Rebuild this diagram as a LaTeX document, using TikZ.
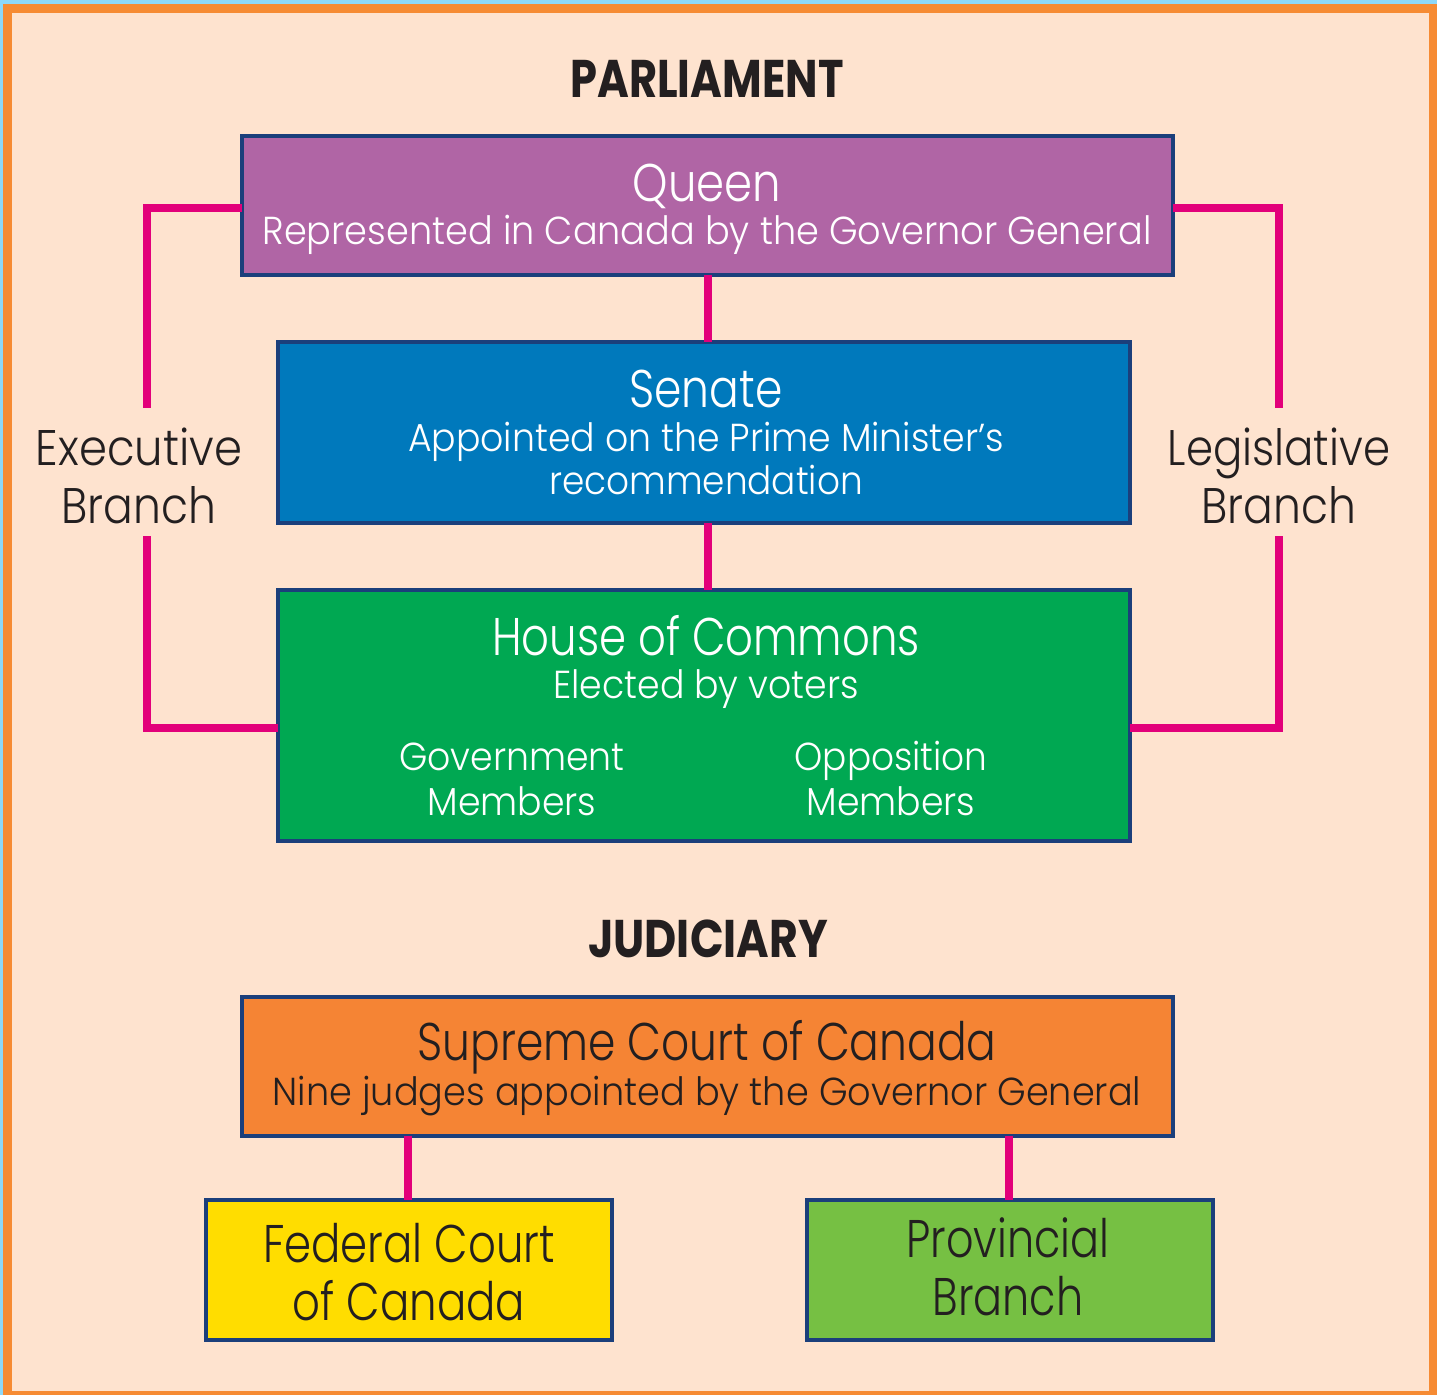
\documentclass[tikz,border=0pt]{standalone}
\usepackage{fontspec}
\setmainfont{Poppins Light}[BoldFont=Poppins Bold]
\usepackage{graphicx}
\definecolor{bgblue}{HTML}{8ED8F8}
\definecolor{frameor}{HTML}{F68B33}
\definecolor{peach}{HTML}{FEE3CF}
\definecolor{navy}{HTML}{1B3F7B}
\definecolor{qpurple}{HTML}{B065A5}
\definecolor{sblue}{HTML}{0079BC}
\definecolor{hgreen}{HTML}{00A852}
\definecolor{corange}{HTML}{F58434}
\definecolor{fyellow}{HTML}{FFDD00}
\definecolor{pgreen}{HTML}{76C043}
\definecolor{magenta}{HTML}{E2007A}
\definecolor{ink}{HTML}{231F20}
\newcommand{\bigsz}{\fontsize{53}{60}\selectfont}
\newcommand{\subsz}{\fontsize{39}{44}\selectfont}
\newcommand{\sidesz}{\fontsize{50}{58}\selectfont}
\newcommand{\headsz}{\fontsize{53}{58}\selectfont}
\newcommand{\hs}[2]{\scalebox{#1}[1]{#2}}
\begin{document}
\begin{tikzpicture}[x=1pt,y=-1pt,
  box/.style={draw=navy, line width=4pt, inner sep=0pt, outer sep=0pt},
  conn/.style={draw=magenta, line width=8pt},
  txt/.style={anchor=base, inner sep=0pt, outer sep=0pt},
  wt/.style={txt, text=white},
  bt/.style={txt, text=ink}]
\useasboundingbox (0,0) rectangle (1437,1395);
\fill[bgblue] (0,0) rectangle (1437,1395);
\fill[frameor] (3,4) rectangle (1437,1395);
\fill[peach] (12,13) rectangle (1429,1391);

% headings
\node[bt, font=\headsz\bfseries] (parl) at (707,97) {\hs{0.815}{PARLIAMENT}};
\node[bt, font=\headsz\bfseries] (jud) at (708,957) {\hs{0.835}{JUDICIARY}};

% boxes
\node[box, fill=qpurple, minimum width=931pt, minimum height=139pt] (queen) at (707.5,205.5) {};
\node[box, fill=sblue, minimum width=852pt, minimum height=181pt] (senate) at (704,432.5) {};
\node[box, fill=hgreen, minimum width=852pt, minimum height=251pt] (house) at (704,715.5) {};
\node[box, fill=corange, minimum width=931pt, minimum height=139pt] (supreme) at (707.5,1066) {};
\node[box, fill=fyellow, minimum width=406pt, minimum height=140pt] (federal) at (409,1270) {};
\node[box, fill=pgreen, minimum width=406pt, minimum height=140pt] (prov) at (1010,1270) {};

% connectors
\draw[conn] (queen.south) -- (queen.south |- senate.north);
\draw[conn] (queen.south |- senate.south) -- (queen.south |- house.north);
\coordinate (eTop) at (147,408);
\coordinate (eBot) at (147,536);
\coordinate (eCorner) at (147,728);
\coordinate (lTop) at (1279,408);
\coordinate (lBot) at (1279,536);
\coordinate (lCorner) at (1279,728);
\coordinate (qLeft) at (240,208);
\coordinate (qRight) at (1175,208);
\draw[conn] (queen.west |- qLeft) -| (eTop);
\draw[conn] (eBot) -- (eCorner) -- (house.west |- eCorner);
\draw[conn] (queen.east |- qRight) -| (lTop);
\draw[conn] (lBot) -- (lCorner) -- (house.east |- lCorner);
\coordinate (fx) at (408,0);
\coordinate (px) at (1009,0);
\draw[conn] (supreme.south -| fx) -- (federal.north -| fx);
\draw[conn] (supreme.south -| px) -- (prov.north -| px);

% texts
\node[wt, font=\bigsz] (qt1) at (707,201) {\hs{0.85}{Queen}};
\node[wt, font=\subsz] (qt2) at (707,244) {\hs{0.94}{Represented in Canada by the Governor General}};
\node[wt, font=\bigsz] (st1) at (706,407) {\hs{0.83}{Senate}};
\node[wt, font=\subsz] (st2) at (706,451) {\hs{0.93}{Appointed on the Prime Minister’s}};
\node[wt, font=\subsz] (st3) at (706,494) {\hs{0.92}{recommendation}};
\node[wt, font=\bigsz] (ht1) at (706,655) {\hs{0.82}{House of Commons}};
\node[wt, font=\subsz] (ht2) at (706,698) {\hs{0.93}{Elected by voters}};
\node[wt, font=\subsz] (ht3) at (512,770) {\hs{0.93}{Government}};
\node[wt, font=\subsz] (ht4) at (512,815) {\hs{0.93}{Members}};
\node[wt, font=\subsz] (ht5) at (891,770) {\hs{0.92}{Opposition}};
\node[wt, font=\subsz] (ht6) at (891,815) {\hs{0.93}{Members}};
\node[bt, font=\bigsz] (ct1) at (707,1060) {\hs{0.83}{Supreme Court of Canada}};
\node[bt, font=\subsz] (ct2) at (707,1105) {\hs{0.94}{Nine judges appointed by the Governor General}};
\node[bt, font=\bigsz] (ft1) at (409,1262) {\hs{0.82}{Federal Court}};
\node[bt, font=\bigsz] (ft2) at (409,1320) {\hs{0.82}{of Canada}};
\node[bt, font=\bigsz] (pt1) at (1008,1257) {\hs{0.81}{Provincial}};
\node[bt, font=\bigsz] (pt2) at (1008,1315) {\hs{0.81}{Branch}};
\node[bt, font=\sidesz] (ex1) at (139,465) {\hs{0.90}{Executive}};
\node[bt, font=\sidesz] (ex2) at (139,523) {\hs{0.88}{Branch}};
\node[bt, font=\sidesz] (lg1) at (1279,465) {\hs{0.87}{Legislative}};
\node[bt, font=\sidesz] (lg2) at (1279,523) {\hs{0.88}{Branch}};
\end{tikzpicture}
\end{document}
